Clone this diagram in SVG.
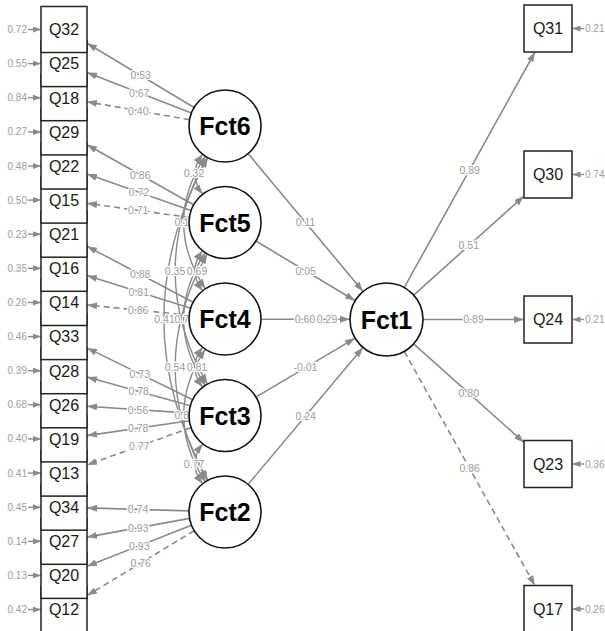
<svg xmlns="http://www.w3.org/2000/svg" width="605" height="631" viewBox="0 0 605 631">
<style>
.e{stroke:#8a8a8a;stroke-width:1.6;fill:none;marker-end:url(#ah)}
.d{stroke-dasharray:6 4}
.cv{stroke:#8a8a8a;stroke-width:1.4;fill:none;marker-start:url(#ah);marker-end:url(#ah)}
.rs{stroke:#8a8a8a;stroke-width:1.4;marker-end:url(#as)}
.lb{font-family:"Liberation Sans",Arial,sans-serif;font-size:10.5px;fill:#9c9c9c;text-anchor:middle;stroke:#fff;stroke-width:2.5;paint-order:stroke}
.ls{text-anchor:start}
.rl{font-family:"Liberation Sans",Arial,sans-serif;font-size:10px;fill:#9c9c9c}
.box{fill:#fff;stroke:#222;stroke-width:1.5}
.bt{font-family:"Liberation Sans",Arial,sans-serif;font-size:16px;fill:#1a1a1a;text-anchor:middle}
.lat{fill:#fff;stroke:#111;stroke-width:1.6}
.lt{font-family:"Liberation Sans",Arial,sans-serif;font-size:25px;font-weight:bold;fill:#000;text-anchor:middle}
</style>
<defs>
<marker id="ah" viewBox="0 0 10 7" refX="10" refY="3.5" markerWidth="10" markerHeight="7" markerUnits="userSpaceOnUse" orient="auto-start-reverse"><path d="M0,0 L10,3.5 L0,7 z" fill="#8a8a8a"/></marker>
<marker id="as" viewBox="0 0 8 6" refX="8" refY="3" markerWidth="8" markerHeight="6" markerUnits="userSpaceOnUse" orient="auto"><path d="M0,0 L8,3 L0,6 z" fill="#8a8a8a"/></marker>
</defs>

<g id="connectors">
<!-- residuals left -->
<line class="rs" x1="28" y1="29.5" x2="41" y2="29.5"/><text class="rl" x="27" y="33" text-anchor="end">0.72</text>
<line class="rs" x1="28" y1="63.6" x2="41" y2="63.6"/><text class="rl" x="27" y="67.1" text-anchor="end">0.55</text>
<line class="rs" x1="28" y1="97.7" x2="41" y2="97.7"/><text class="rl" x="27" y="101.2" text-anchor="end">0.84</text>
<line class="rs" x1="28" y1="131.9" x2="41" y2="131.9"/><text class="rl" x="27" y="135.4" text-anchor="end">0.27</text>
<line class="rs" x1="28" y1="166" x2="41" y2="166"/><text class="rl" x="27" y="169.5" text-anchor="end">0.48</text>
<line class="rs" x1="28" y1="200.1" x2="41" y2="200.1"/><text class="rl" x="27" y="203.6" text-anchor="end">0.50</text>
<line class="rs" x1="28" y1="234.2" x2="41" y2="234.2"/><text class="rl" x="27" y="237.7" text-anchor="end">0.23</text>
<line class="rs" x1="28" y1="268.3" x2="41" y2="268.3"/><text class="rl" x="27" y="271.8" text-anchor="end">0.35</text>
<line class="rs" x1="28" y1="302.5" x2="41" y2="302.5"/><text class="rl" x="27" y="306" text-anchor="end">0.26</text>
<line class="rs" x1="28" y1="336.6" x2="41" y2="336.6"/><text class="rl" x="27" y="340.1" text-anchor="end">0.46</text>
<line class="rs" x1="28" y1="370.7" x2="41" y2="370.7"/><text class="rl" x="27" y="374.2" text-anchor="end">0.39</text>
<line class="rs" x1="28" y1="404.8" x2="41" y2="404.8"/><text class="rl" x="27" y="408.3" text-anchor="end">0.68</text>
<line class="rs" x1="28" y1="438.9" x2="41" y2="438.9"/><text class="rl" x="27" y="442.4" text-anchor="end">0.40</text>
<line class="rs" x1="28" y1="473.1" x2="41" y2="473.1"/><text class="rl" x="27" y="476.6" text-anchor="end">0.41</text>
<line class="rs" x1="28" y1="507.2" x2="41" y2="507.2"/><text class="rl" x="27" y="510.7" text-anchor="end">0.45</text>
<line class="rs" x1="28" y1="541.3" x2="41" y2="541.3"/><text class="rl" x="27" y="544.8" text-anchor="end">0.14</text>
<line class="rs" x1="28" y1="575.4" x2="41" y2="575.4"/><text class="rl" x="27" y="578.9" text-anchor="end">0.13</text>
<line class="rs" x1="28" y1="609.5" x2="41" y2="609.5"/><text class="rl" x="27" y="613" text-anchor="end">0.42</text>
<!-- residuals right -->
<line class="rs" x1="584" y1="28.5" x2="572.5" y2="28.5"/><text class="rl" x="585" y="32">0.21</text>
<line class="rs" x1="584" y1="174.5" x2="572.5" y2="174.5"/><text class="rl" x="585" y="178">0.74</text>
<line class="rs" x1="584" y1="319.5" x2="572.5" y2="319.5"/><text class="rl" x="585" y="323">0.21</text>
<line class="rs" x1="584" y1="464" x2="572.5" y2="464"/><text class="rl" x="585" y="467.5">0.36</text>
<line class="rs" x1="584" y1="609" x2="572.5" y2="609"/><text class="rl" x="585" y="612.5">0.26</text>

<!-- factor covariances -->
<path class="cv" d="M202.7,154.3 Q187,174.25 202.7,194.2"/>
<path class="cv" d="M202.7,250.8 Q187,270.75 202.7,290.7"/>
<path class="cv" d="M202.7,347.3 Q187,367.25 202.7,387.2"/>
<path class="cv" d="M202.7,443.8 Q187,463.75 202.7,483.7"/>
<path class="cv" d="M205.3,156.2 Q162,222.5 205.3,288.8"/>
<path class="cv" d="M205.3,252.7 Q162,319 205.3,385.3"/>
<path class="cv" d="M205.3,349.2 Q162,415.5 205.3,481.8"/>
<path class="cv" d="M207.3,157.3 Q143,270.75 207.3,384.2"/>
<path class="cv" d="M207.3,253.8 Q143,367.25 207.3,480.7"/>
<path class="cv" d="M207.8,157.6 Q120,319 207.8,480.4"/>

<!-- loadings -->
<line class="e" x1="194.1" y1="107.5" x2="87" y2="43.3"/>
<line class="e" x1="191.4" y1="113" x2="87" y2="72.5"/>
<line class="e d" x1="189.6" y1="119.8" x2="87" y2="101.7"/>
<line class="e" x1="193.6" y1="204.8" x2="87" y2="144.8"/>
<line class="e" x1="191" y1="210.6" x2="87" y2="174.1"/>
<line class="e d" x1="189.4" y1="217.5" x2="87" y2="203.3"/>
<line class="e" x1="193.2" y1="302.2" x2="87" y2="246.3"/>
<line class="e" x1="190.7" y1="308.2" x2="87" y2="275.5"/>
<line class="e d" x1="189.2" y1="315.3" x2="87" y2="304.9"/>
<line class="e" x1="192.7" y1="399.7" x2="87" y2="347.9"/>
<line class="e" x1="190.3" y1="405.8" x2="87" y2="377.1"/>
<line class="e" x1="189.1" y1="413.1" x2="87" y2="406.3"/>
<line class="e" x1="189.4" y1="420.7" x2="87" y2="435.6"/>
<line class="e d" x1="191.1" y1="427.6" x2="87" y2="464.9"/>
<line class="e" x1="189" y1="510.9" x2="87" y2="507.9"/>
<line class="e" x1="189.6" y1="518.4" x2="87" y2="537.1"/>
<line class="e" x1="191.5" y1="525.2" x2="87" y2="566.3"/>
<line class="e d" x1="194.2" y1="530.7" x2="87" y2="595.6"/>

<!-- regressions -->
<line class="e" x1="248.1" y1="153.6" x2="363.1" y2="291.5"/>
<line class="e" x1="255.9" y1="241" x2="355.2" y2="300.7"/>
<line class="e" x1="261" y1="319.25" x2="350" y2="319.25"/>
<line class="e" x1="255.9" y1="397.1" x2="355.1" y2="338.1"/>
<line class="e" x1="248.1" y1="484.4" x2="363" y2="347.5"/>

<!-- Fct1 loadings -->
<line class="e" x1="404.2" y1="287.6" x2="535" y2="52"/>
<line class="e" x1="413.7" y1="295.1" x2="524" y2="196"/>
<line class="e" x1="423" y1="319.5" x2="524" y2="319.5"/>
<line class="e" x1="413.7" y1="343.8" x2="524" y2="442.5"/>
<line class="e d" x1="404.3" y1="351.4" x2="534.9" y2="585.5"/>

<!-- labels -->
<text class="lb" x="140.6" y="79.2">0.53</text>
<text class="lb" x="139.2" y="96.5">0.67</text>
<text class="lb" x="138.3" y="114.6">0.40</text>
<text class="lb" x="140.3" y="178.6">0.86</text>
<text class="lb" x="139" y="196.2">0.72</text>
<text class="lb" x="138.2" y="214.2">0.71</text>
<text class="lb" x="140.1" y="278.1">0.88</text>
<text class="lb" x="138.8" y="295.7">0.81</text>
<text class="lb" x="138.1" y="313.9">0.86</text>
<text class="lb" x="139.8" y="377.6">0.73</text>
<text class="lb" x="138.7" y="395.3">0.78</text>
<text class="lb" x="138" y="413.5">0.56</text>
<text class="lb" x="138.2" y="431.9">0.78</text>
<text class="lb" x="139.1" y="450">0.77</text>
<text class="lb" x="138" y="513.2">0.74</text>
<text class="lb" x="138.3" y="531.6">0.93</text>
<text class="lb" x="139.3" y="549.6">0.93</text>
<text class="lb" x="140.6" y="567">0.76</text>

<text class="lb" x="194" y="177.3">0.32</text>
<text class="lb ls" x="174.5" y="226.3">0.1</text>
<text class="lb" x="175" y="274.6">0.35</text>
<text class="lb" x="197" y="274.6">0.69</text>
<text class="lb" x="164.5" y="322.8">0.41</text>
<text class="lb ls" x="174.5" y="322.8">0.7</text>
<text class="lb" x="175" y="371.1">0.54</text>
<text class="lb" x="197" y="371.1">0.81</text>
<text class="lb ls" x="174.5" y="419.3">0.8</text>
<text class="lb" x="194" y="467.6">0.77</text>

<text class="lb" x="305.6" y="226.3">0.11</text>
<text class="lb" x="305.6" y="274.6">0.05</text>
<text class="lb" x="305" y="323.1">0.60</text>
<text class="lb" x="327" y="323.1">0.29</text>
<text class="lb" x="305.5" y="371.4">-0.01</text>
<text class="lb" x="305.6" y="419.8">0.24</text>

<text class="lb" x="469.6" y="173.6">0.89</text>
<text class="lb" x="468.8" y="249.4">0.51</text>
<text class="lb" x="473.5" y="323.3">0.89</text>
<text class="lb" x="468.8" y="396.9">0.80</text>
<text class="lb" x="469.6" y="472.2">0.86</text>
</g>

<!-- left manifest nodes (drawn bottom to top) -->
<g id="Q12"><rect class="box" x="41" y="586.5" width="46" height="46"/><text class="bt" x="64" y="615.3">Q12</text></g>
<g id="Q20"><rect class="box" x="41" y="552.4" width="46" height="46"/><text class="bt" x="64" y="581.2">Q20</text></g>
<g id="Q27"><rect class="box" x="41" y="518.3" width="46" height="46"/><text class="bt" x="64" y="547.1">Q27</text></g>
<g id="Q34"><rect class="box" x="41" y="484.2" width="46" height="46"/><text class="bt" x="64" y="513">Q34</text></g>
<g id="Q13"><rect class="box" x="41" y="450.1" width="46" height="46"/><text class="bt" x="64" y="478.9">Q13</text></g>
<g id="Q19"><rect class="box" x="41" y="415.9" width="46" height="46"/><text class="bt" x="64" y="444.7">Q19</text></g>
<g id="Q26"><rect class="box" x="41" y="381.8" width="46" height="46"/><text class="bt" x="64" y="410.6">Q26</text></g>
<g id="Q28"><rect class="box" x="41" y="347.7" width="46" height="46"/><text class="bt" x="64" y="376.5">Q28</text></g>
<g id="Q33"><rect class="box" x="41" y="313.6" width="46" height="46"/><text class="bt" x="64" y="342.4">Q33</text></g>
<g id="Q14"><rect class="box" x="41" y="279.5" width="46" height="46"/><text class="bt" x="64" y="308.3">Q14</text></g>
<g id="Q16"><rect class="box" x="41" y="245.3" width="46" height="46"/><text class="bt" x="64" y="274.1">Q16</text></g>
<g id="Q21"><rect class="box" x="41" y="211.2" width="46" height="46"/><text class="bt" x="64" y="240">Q21</text></g>
<g id="Q15"><rect class="box" x="41" y="177.1" width="46" height="46"/><text class="bt" x="64" y="205.9">Q15</text></g>
<g id="Q22"><rect class="box" x="41" y="143" width="46" height="46"/><text class="bt" x="64" y="171.8">Q22</text></g>
<g id="Q29"><rect class="box" x="41" y="108.9" width="46" height="46"/><text class="bt" x="64" y="137.7">Q29</text></g>
<g id="Q18"><rect class="box" x="41" y="74.7" width="46" height="46"/><text class="bt" x="64" y="103.5">Q18</text></g>
<g id="Q25"><rect class="box" x="41" y="40.6" width="46" height="46"/><text class="bt" x="64" y="69.4">Q25</text></g>
<g id="Q32"><rect class="box" x="41" y="6.5" width="46" height="46"/><text class="bt" x="64" y="35.3">Q32</text></g>

<!-- right manifest nodes -->
<g id="Q31"><rect class="box" x="524" y="5" width="48" height="47"/><text class="bt" x="548" y="34.3">Q31</text></g>
<g id="Q30"><rect class="box" x="524" y="151" width="48" height="47"/><text class="bt" x="548" y="180.3">Q30</text></g>
<g id="Q24"><rect class="box" x="524" y="296" width="48" height="47"/><text class="bt" x="548" y="325.3">Q24</text></g>
<g id="Q23"><rect class="box" x="524" y="440.5" width="48" height="47"/><text class="bt" x="548" y="469.8">Q23</text></g>
<g id="Q17"><rect class="box" x="524" y="585.5" width="48" height="47"/><text class="bt" x="548" y="614.8">Q17</text></g>

<!-- latent nodes -->
<g id="Fct6"><circle class="lat" cx="225" cy="126" r="36"/><text class="lt" x="225" y="135">Fct6</text></g>
<g id="Fct5"><circle class="lat" cx="225" cy="222.5" r="36"/><text class="lt" x="225" y="231.5">Fct5</text></g>
<g id="Fct4"><circle class="lat" cx="225" cy="319" r="36"/><text class="lt" x="225" y="328">Fct4</text></g>
<g id="Fct3"><circle class="lat" cx="225" cy="415.5" r="36"/><text class="lt" x="225" y="424.5">Fct3</text></g>
<g id="Fct2"><circle class="lat" cx="225" cy="512" r="36"/><text class="lt" x="225" y="521">Fct2</text></g>
<g id="Fct1"><circle class="lat" cx="386.5" cy="319.5" r="36.5"/><text class="lt" x="386.5" y="328.5">Fct1</text></g>
</svg>
